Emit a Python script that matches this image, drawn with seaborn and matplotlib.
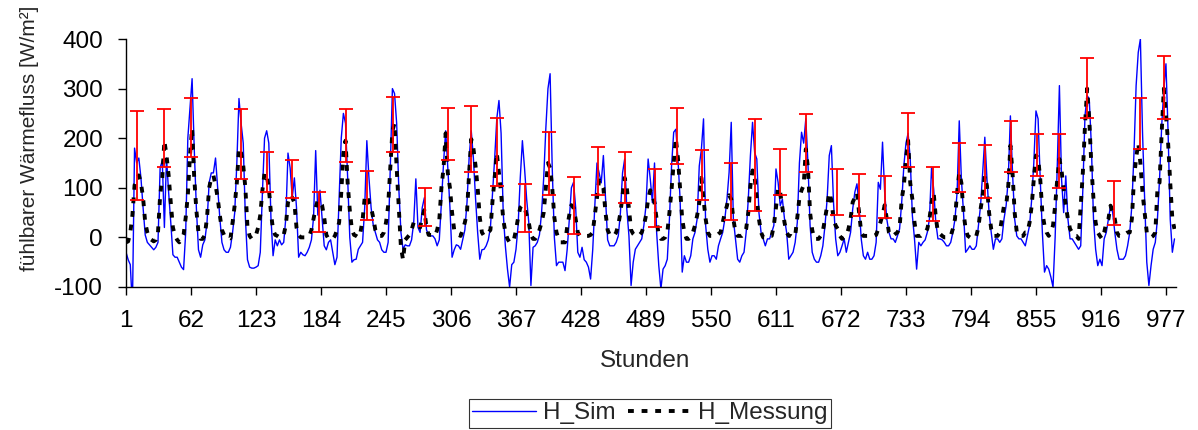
import matplotlib
matplotlib.use('Agg')
import matplotlib.pyplot as plt
import numpy as np
import pandas as pd
import seaborn as sns

# hourly heat flux, sampled every 2 hours (hour 1, 3, 5, ...), one row per day
h_sim = [
    -30, -45, -55, -140, 180, 150, 160, 120, 60, 5, -10, -15,
    -20, -25, -20, -10, 140, 155, 20, 160, 90, 30, -35, -40,
    -40, -50, -60, -65, 10, 200, 260, 320, 180, 60, -25, -40,
    -15, -5, 30, 110, 130, 130, 160, 100, 40, -10, -25, -30,
    -30, -20, 10, 50, 150, 280, 230, 190, 40, -45, -60, -62,
    -62, -60, -57, -30, 90, 200, 215, 190, 40, -37, -5, -17,
    -5, -15, -10, 40, 170, 140, 80, 120, 60, -40, -30, -35,
    -37, -30, -20, -5, 40, 175, 45, 95, 40, -17, -25, -10,
    -5, -30, -55, -40, 80, 200, 250, 230, 120, 0, -50, -45,
    -44, -24, -17, -10, 60, 195, 120, 60, 25, 10, -5, -10,
    -25, -30, -30, -10, 140, 300, 290, 230, 100, 10, -24, -15,
    -17, -17, -5, 30, 118, 20, 10, 60, 80, 15, 5, 3,
    3, -3, -17, -5, 70, 150, 215, 140, 60, -40, -25, -15,
    -17, -24, -5, 15, 70, 160, 215, 160, 80, 10, -44, -25,
    -24, -17, -5, 20, 90, 160, 240, 276, 210, 50, -17, -64,
    -100, -55, -50, -24, 25, 120, 195, 140, 77, 30, -97, -20,
    -17, -10, 5, 50, 120, 220, 300, 330, 140, 0, -57, -50,
    -50, -50, -67, -25, 35, 100, 111, 60, -30, -40, -20, -45,
    -50, -60, -84, -25, 65, 150, 130, 110, 165, 80, -5, -17,
    -17, -17, -10, 3, 50, 130, 158, 57, 3, -97, -50, -24,
    -17, -10, -3, 24, 64, 158, 118, 70, 150, 10, -57, -104,
    -64, -57, -44, 37, 144, 212, 218, 158, 77, -70, -37, -50,
    -50, -37, -3, 10, 37, 144, 178, 239, 24, -24, -50, -37,
    -37, -44, -17, -3, 10, 37, 77, 131, 232, 37, -3, -44,
    -50, -37, -30, 10, 77, 165, 232, 171, 158, 50, 10, -3,
    -17, -3, -3, 10, 24, 138, 111, 64, 77, 37, 10, -44,
    -37, -30, -10, 30, 150, 212, 190, 239, 150, 24, -30, -44,
    -50, -50, -37, -17, 24, 77, 165, 185, 70, -3, -37, -30,
    -17, -3, -30, -10, 10, 57, 91, 108, 64, -3, -37, -44,
    -30, -44, -44, -37, -10, 111, 97, 192, 91, 37, 10, -3,
    -3, -10, 3, 17, 71, 144, 190, 210, 158, 44, -3, -64,
    -10, -17, -10, -5, 10, 37, 140, 97, 30, -3, -3, -5,
    -10, -17, -17, -10, 10, 37, 91, 235, 118, 50, -30, -24,
    -17, -24, -24, -17, 24, 64, 131, 202, 118, 50, 10, -24,
    -3, -3, -10, -3, 37, 64, 118, 245, 131, 37, 3, -3,
    -3, -10, -17, 3, 24, 77, 151, 255, 239, 118, 10, -70,
    -57, -64, -80, -100, 0, 144, 306, 118, 50, 124, 37, -3,
    -3, -10, -17, -24, -17, 97, 245, 286, 279, 185, 37, -24,
    -57, -44, -57, -3, 10, 37, 64, 50, 10, -24, -44, -44,
    -44, -37, -17, 10, 64, 171, 306, 373, 400, 212, 77, -50,
    -97, -57, -24, -10, 37, 118, 225, 299, 350, 212, 37, -30,
    -3,
]

h_messung = [
    -10, -8, 10, 45, 105, 120, 125, 110, 80, 30, 10, -2,
    -5, -8, -5, 10, 84, 120, 195, 165, 125, 70, 20, 3,
    -5, -10, -5, 5, 40, 85, 165, 220, 120, 55, 10, -3,
    -3, 5, 40, 100, 120, 125, 105, 80, 45, 15, 5, 0,
    0, -2, 30, 65, 110, 180, 170, 145, 100, 20, 3, -3,
    0, 5, 20, 45, 95, 130, 125, 100, 50, 15, 5, 3,
    0, 0, 5, 25, 70, 85, 80, 70, 20, 5, 0, 0,
    0, 0, 3, 15, 37, 60, 75, 71, 65, 40, 5, -3,
    -3, -3, 3, 15, 30, 90, 170, 195, 110, 55, 15, 5,
    3, 0, 10, 35, 80, 85, 70, 60, 40, 15, 5, 3,
    3, 10, 30, 64, 140, 215, 230, 140, 60, -20, -45, -5,
    0, 5, 15, 30, 25, 25, 20, 40, 55, 20, 5, 5,
    5, 3, 15, 35, 100, 140, 210, 130, 100, 50, 15, 10,
    5, 3, 15, 30, 50, 130, 198, 180, 145, 100, 40, 10,
    3, 5, 10, 15, 75, 120, 170, 130, 90, 37, 10, -3,
    -10, -10, -5, 15, 40, 60, 65, 60, 45, 30, 5, -3,
    -3, 3, 15, 30, 50, 100, 150, 140, 100, 40, 10, -3,
    -10, -10, -10, 20, 45, 65, 60, 37, 10, 3, 3, 3,
    3, 3, 5, 10, 45, 80, 115, 110, 100, 50, 15, 5,
    3, 3, 10, 25, 50, 85, 120, 100, 57, 15, 7, 3,
    3, 5, 10, 24, 44, 77, 95, 85, 70, 37, 3, -3,
    -3, 0, 10, 50, 97, 150, 200, 160, 97, 37, 10, -3,
    -3, 0, 10, 24, 44, 70, 120, 77, 37, 10, 3, 3,
    3, 3, 7, 10, 30, 50, 64, 85, 77, 37, 10, 3,
    3, 3, 7, 17, 50, 104, 135, 120, 77, 37, 10, 0,
    0, 0, 3, 3, 24, 60, 100, 90, 60, 30, 10, 3,
    3, 0, 3, 40, 80, 95, 105, 178, 140, 50, 15, -3,
    -3, -3, 3, 13, 37, 64, 90, 75, 37, 24, 17, 3,
    -3, 0, 3, 17, 37, 71, 80, 90, 50, 10, 3, 3,
    3, 3, 3, 3, 5, 17, 30, 45, 65, 37, 10, 3,
    3, 7, 10, 20, 77, 104, 158, 195, 110, 77, 30, 3,
    3, 3, 7, 10, 17, 37, 70, 90, 40, 10, 7, 3,
    0, 0, 3, 3, 17, 37, 91, 130, 110, 50, 17, 3,
    0, -3, 0, 3, 20, 57, 84, 124, 104, 50, 17, 3,
    3, 3, 10, 37, 64, 64, 104, 185, 131, 50, 10, 3,
    3, 3, 10, 10, 30, 64, 118, 165, 160, 118, 50, 24,
    10, 3, 10, 24, 64, 118, 158, 135, 97, 64, 37, 17,
    10, 3, 3, -3, 64, 131, 225, 300, 239, 144, 77, 30,
    10, 3, -3, 10, 30, 37, 64, 50, 37, 10, 3, 3,
    3, 7, 10, 10, 37, 118, 160, 190, 150, 90, 50, 10,
    3, 0, 3, 10, 97, 111, 212, 300, 245, 192, 111, 37,
    17,
]

# red range bars at the daily peaks
err_hour = [11, 37, 62, 109, 133, 157, 182, 207, 227, 252,
            282, 303, 325, 349, 375, 398, 421, 444, 469, 497,
            518, 542, 569, 591, 615, 639, 668, 689, 713, 735,
            758, 783, 807, 832, 856, 877, 903, 928, 953, 975]
err_top = [255, 258, 281, 258, 173, 157, 91, 258, 134, 284,
           99, 261, 265, 241, 108, 212, 121, 182, 173, 138,
           261, 176, 150, 238, 179, 248, 138, 128, 124, 251,
           141, 190, 186, 235, 209, 209, 362, 114, 281, 366]
err_bottom = [75, 141, 163, 118, 91, 79, 10, 151, 36, 173,
              23, 157, 131, 104, 10, 85, 7, 85, 69, 20,
              147, 75, 36, 53, 85, 131, 46, 43, 40, 141,
              33, 91, 79, 131, 124, 99, 241, 24, 179, 239]

x_ticks = [1, 62, 123, 184, 245, 306, 367, 428, 489, 550,
           611, 672, 733, 794, 855, 916, 977]
y_ticks = [-100, 0, 100, 200, 300, 400]

sns.set_style('ticks')
plt.rcParams['font.family'] = ['Liberation Sans', 'DejaVu Sans']
plt.rcParams['axes.unicode_minus'] = False

fig = plt.figure(figsize=(11.98, 4.30), dpi=100)
ax = fig.add_axes([0.1052, 0.3326, 0.8765, 0.5767])

sim_df = pd.DataFrame({'Stunde': np.arange(len(h_sim)) * 2 + 1, 'H': h_sim})
mess_df = pd.DataFrame({'Stunde': np.arange(len(h_messung)) * 2 + 1, 'H': h_messung})

sns.lineplot(data=sim_df, x='Stunde', y='H', color='#0000ff', linewidth=1.0,
             ax=ax, label='H_Sim', zorder=2)
sns.lineplot(data=mess_df, x='Stunde', y='H', color='black', linewidth=2.8,
             ax=ax, label='H_Messung', zorder=3)
ax.lines[1].set_dashes([1.5, 2.0])

top = np.array(err_top, dtype=float)
bottom = np.array(err_bottom, dtype=float)
ax.errorbar(err_hour, (top + bottom) / 2, yerr=(top - bottom) / 2, fmt='none',
            ecolor='#ff0000', elinewidth=1.3, capsize=5, capthick=1.3, zorder=4)

ax.set_xlim(1, 986.5)
ax.set_ylim(-100, 400)
ax.set_xticks(x_ticks)
ax.set_yticks(y_ticks)
ax.tick_params(axis='both', direction='out', length=6, width=1, colors='black',
               labelsize=17.5, pad=10.5)
for side in ['top', 'right']:
    ax.spines[side].set_visible(False)
for side in ['left', 'bottom']:
    ax.spines[side].set_color('black')
    ax.spines[side].set_linewidth(1)

ax.set_xlabel('Stunden', fontsize=17.5)
ax.set_ylabel('fühlbarer Wärmefluss [W/m²]', fontsize=15)
ax.xaxis.set_label_coords(0.494, -0.254)
ax.yaxis.set_label_coords(-0.083, 0.6)

handles, labels = ax.get_legend_handles_labels()
ax.get_legend().remove()
leg = fig.legend(handles, labels, loc='lower center', bbox_to_anchor=(0.5426, 0.005),
                 ncol=2, frameon=True, fancybox=False, edgecolor='black',
                 fontsize=17.5, handlelength=2.6, columnspacing=0.5,
                 handletextpad=0.3, borderpad=0.15, borderaxespad=0)
leg.get_frame().set_linewidth(0.8)

fig.savefig('out.png', dpi=100)
plt.close(fig)
